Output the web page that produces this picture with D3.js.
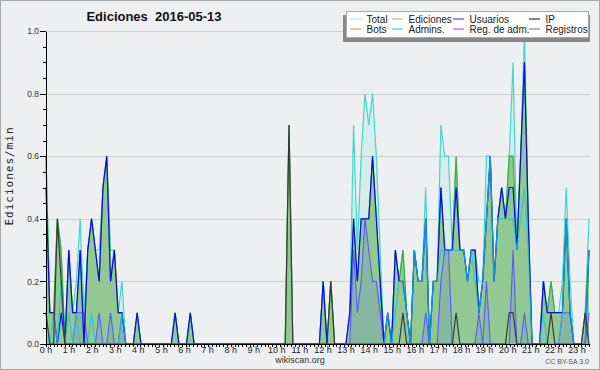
<!DOCTYPE html>
<head>
  <meta charset="utf-8">
  <script src="https://d3js.org/d3.v7.min.js"></script>
  <style>
    body { margin:0; background:#fff; }
    svg { display:block; font-family:"Liberation Sans", Arial, sans-serif; }
    .grid line { stroke:#cdcdcd; stroke-width:1; shape-rendering:crispEdges; }
    .axis path, .axis line { stroke:#000; shape-rendering:crispEdges; }
    .axis text { font-size:8.5px; fill:#333; font-family:"Liberation Sans", Arial, sans-serif; }
    .lg text { font-size:10px; fill:#222; }
  </style>
</head>

<body>
  <script>
  // ---------- data : one point every 10 minutes, edits/min ----------
    var hours = d3.range(0, 24);
    var yMajor = [0, 0.2, 0.4, 0.6, 0.8, 1.0];

    var total = [
      .6,.1,.1,.4,.3,0,.3,.1,.2,.4,.1,.3,
      .4,.3,.3,.5,.6,.3,.3,.1,.2,0,0,0,
      .1,0,0,0,0,0,0,0,0,0,.1,0,
      0,0,.1,0,0,0,0,0,0,0,0,0,
      0,0,0,0,0,0,0,0,0,0,0,0,
      0,0,0,0,.7,0,0,0,0,0,0,0,
      0,.2,0,.2,0,0,0,0,.1,.7,.3,.6,
      .8,.7,.8,.6,.3,0,.1,0,.3,.2,.3,.1,
      0,.3,.2,.2,.5,0,.2,.2,.7,.6,.6,.3,
      .6,.3,.3,.2,.3,.3,.2,.2,.6,.6,.2,.4,
      .5,.4,.6,.9,.3,.6,1.0,.4,0,0,0,.2,
      .1,.2,.1,.1,.2,.5,.2,0,0,0,.1,.4
    ];
    var ediciones = [
      .6,.1,.1,.4,.3,0,.3,.1,.1,.3,0,.3,
      .4,.3,.2,.5,.6,.2,.3,.1,.1,0,0,0,
      .1,0,0,0,0,0,0,0,0,0,.1,0,
      0,0,.1,0,0,0,0,0,0,0,0,0,
      0,0,0,0,0,0,0,0,0,0,0,0,
      0,0,0,0,.7,0,0,0,0,0,0,0,
      0,.2,0,.2,0,0,0,0,.1,.4,.2,.4,
      .4,.4,.6,.4,.2,0,.1,0,.3,.2,.3,.1,
      0,.3,.2,.2,.4,0,.2,.2,.5,.3,.3,.3,
      .6,.3,.3,.2,.3,.3,.1,.2,.4,.6,.2,.4,
      .5,.4,.6,.6,.3,.6,.9,.4,0,0,0,.2,
      .1,.2,.1,.1,.1,.4,.1,0,0,0,.1,.3
    ];
    var usuarios = [
      .5,.1,.1,0,.1,0,.3,.1,.1,.3,0,.3,
      .4,.3,.2,.5,.6,.2,.3,.1,.1,0,0,0,
      .1,0,0,0,0,0,0,0,0,0,.1,0,
      0,0,.1,0,0,0,0,0,0,0,0,0,
      0,0,0,0,0,0,0,0,0,0,0,0,
      0,0,0,0,0,0,0,0,0,0,0,0,
      0,.2,0,0,0,0,0,0,.1,.4,.2,.4,
      .4,.4,.6,.4,.2,0,.1,0,.3,.2,.2,.1,
      0,.3,.2,.2,.4,0,.2,.2,.5,.3,.3,.3,
      .5,.3,.3,.2,.3,.3,.1,.2,.4,.6,.2,.4,
      .5,.4,.5,.5,.3,.6,.9,.4,0,0,0,.2,
      .1,.1,.1,.1,.1,.4,.1,0,0,0,0,.3
    ];
    var ip = [
      .1,0,0,.4,.2,0,0,0,0,0,0,0,
      0,0,0,0,0,0,0,0,0,0,0,0,
      0,0,0,0,0,0,0,0,0,0,0,0,
      0,0,0,0,0,0,0,0,0,0,0,0,
      0,0,0,0,0,0,0,0,0,0,0,0,
      0,0,0,0,.7,0,0,0,0,0,0,0,
      0,0,0,.2,0,0,0,0,0,0,0,0,
      0,0,0,0,0,0,0,0,0,0,.1,0,
      0,0,0,0,0,0,0,0,0,0,0,0,
      .1,0,0,0,0,0,0,0,0,0,0,0,
      0,0,.1,.1,0,0,0,0,0,0,0,0,
      0,.1,0,0,0,0,0,0,0,0,.1,0
    ];
    var admins = [
      .1,0,.1,0,.2,0,.1,0,.1,0,0,0,
      .1,0,0,0,0,0,0,0,.1,0,0,0,
      0,0,0,0,0,0,0,0,0,0,0,0,
      0,0,0,0,0,0,0,0,0,0,0,0,
      0,0,0,0,0,0,0,0,0,0,0,0,
      0,0,0,0,0,0,0,0,0,0,0,0,
      0,0,0,0,0,0,0,0,0,0,0,0,
      0,0,0,0,0,0,.1,0,.1,.2,.2,.1,
      0,.3,.2,.2,.4,0,.2,.2,.3,.3,.3,.3,
      .3,.3,.3,.2,.3,.2,.1,.2,.4,.6,.2,.4,
      .4,.4,.4,.4,.3,.4,.5,.3,0,0,0,.1,
      0,0,0,0,.1,.4,.1,0,0,0,0,.3
    ];
    var registros = [
      0,0,0,0,0,0,0,0,.1,.1,.1,0,
      0,0,.1,0,0,.1,0,0,.1,0,0,0,
      0,0,0,0,0,0,0,0,0,0,0,0,
      0,0,0,0,0,0,0,0,0,0,0,0,
      0,0,0,0,0,0,0,0,0,0,0,0,
      0,0,0,0,0,0,0,0,0,0,0,0,
      0,0,0,0,0,0,0,0,0,.3,.1,.2,
      .4,.3,.2,.2,.1,0,0,0,0,0,0,0,
      0,0,0,0,.1,0,0,0,.2,.3,.3,0,
      0,0,0,0,0,0,.1,0,.2,0,0,0,
      0,0,0,.3,0,0,.1,0,0,0,0,0,
      0,0,0,0,.1,.1,.1,0,0,0,0,.1
    ];

    var legendRows = [
      [["Total", "#a8e8e0"], ["Ediciones", "#88d088"], ["Usuarios", "#4848e0"], ["IP", "#333333"]],
      [["Bots", "#f0a040"], ["Admins.", "#40d0e0"], ["Reg. de adm.", "#d050e0"], ["Registros", "#7878ff"]]
    ];

  // ---------- svg ----------
    var svg = d3.select("body").append("svg")
      .attr("width", 600)
      .attr("height", 370);

    svg.append("rect")
      .attr("x", 0.5).attr("y", 0.5)
      .attr("width", 599).attr("height", 369)
      .attr("fill", "#eeeff1")
      .attr("stroke", "#a8a8a8");

    var x = d3.scaleLinear().domain([0, total.length - 1]).range([46, 589]);
    var xh = d3.scaleLinear().domain([0, 24]).range([46, 589]);
    var xl = d3.scaleLinear().domain([0, 24]).range([46, 600]);
    var y = d3.scaleLinear().domain([0, 1]).range([344, 31]);

  // ---------- grid ----------
    svg.append("g").attr("class", "grid")
      .selectAll("line").data(yMajor.slice(1)).enter().append("line")
      .attr("x1", 46).attr("x2", 590)
      .attr("y1", d => Math.round(y(d)) + 0.5)
      .attr("y2", d => Math.round(y(d)) + 0.5);

  // ---------- series ----------
    function area(vals) {
      return d3.area().x((d, i) => x(i)).y0(y(0)).y1(d => y(d))(vals);
    }
    function line(vals) {
      return d3.line().x((d, i) => x(i)).y(d => y(d))(vals);
    }

    svg.append("path").attr("d", area(total))
      .attr("fill", "rgba(64,224,208,0.13)");
    svg.append("path").attr("d", line(total))
      .attr("fill", "none").attr("stroke", "#40d8cc").attr("stroke-width", 1.2);

    svg.append("path").attr("d", area(ediciones))
      .attr("fill", "#92c992");
    svg.append("path").attr("d", line(ediciones))
      .attr("fill", "none").attr("stroke", "#38b038").attr("stroke-width", 1.2);

    svg.append("path").attr("d", area(registros))
      .attr("fill", "rgba(80,80,255,0.14)");
    svg.append("path").attr("d", line(registros))
      .attr("fill", "none").attr("stroke", "#5a5aff").attr("stroke-width", 1.1);

    svg.append("path").attr("d", line(usuarios))
      .attr("fill", "none").attr("stroke", "#0a0ae8").attr("stroke-width", 1.2);

    svg.append("path").attr("d", line(admins))
      .attr("fill", "none").attr("stroke", "#18c4e0").attr("stroke-width", 1.2)
      .attr("stroke-opacity", 0.75);

    svg.append("path").attr("d", line(ip))
      .attr("fill", "none").attr("stroke", "#383838").attr("stroke-width", 1.2);

  // ---------- axes ----------
    svg.append("g").attr("class", "axis")
      .attr("transform", "translate(46,0)")
      .call(d3.axisLeft(y).tickValues(d3.range(0, 1.001, 0.05)).tickSize(3).tickFormat("").tickSizeOuter(0));
    svg.append("g").attr("class", "axis")
      .attr("transform", "translate(46,0)")
      .call(d3.axisLeft(y).tickValues(yMajor).tickSize(6).tickPadding(1)
        .tickFormat(d3.format(".1f")).tickSizeOuter(0));

    svg.append("g").attr("class", "axis")
      .attr("transform", "translate(0,344)")
      .call(d3.axisBottom(xh).tickValues(d3.range(0, 145).map(d => d / 6)).tickSize(3)
        .tickFormat("").tickSizeOuter(0));

    svg.append("g").selectAll("text").data(hours).enter().append("text")
      .attr("x", d => xl(d))
      .attr("y", 353)
      .attr("text-anchor", "middle")
      .attr("font-size", "9px")
      .attr("fill", "#222")
      .text(d => d + " h");

  // ---------- texts ----------
    svg.append("text")
      .attr("x", 154).attr("y", 21)
      .attr("text-anchor", "middle")
      .attr("font-size", "13px")
      .attr("font-weight", "bold")
      .attr("fill", "#111")
      .style("white-space", "pre")
      .text("Ediciones  2016-05-13");

    svg.append("text")
      .attr("transform", "translate(13,176) rotate(-90)")
      .attr("text-anchor", "middle")
      .attr("font-family", "'DejaVu Sans Mono', monospace")
      .attr("font-size", "11px")
      .attr("letter-spacing", "1px")
      .attr("fill", "#222")
      .text("Ediciones/min");

    svg.append("text")
      .attr("x", 300).attr("y", 363)
      .attr("text-anchor", "middle")
      .attr("font-size", "9px")
      .attr("fill", "#333")
      .text("wikiscan.org");

    svg.append("text")
      .attr("x", 589).attr("y", 364)
      .attr("text-anchor", "end")
      .attr("font-size", "7px")
      .attr("fill", "#555")
      .text("CC BY-SA 3.0");

  // ---------- legend ----------
    var lg = svg.append("g").attr("class", "lg");
    lg.append("rect")
      .attr("x", 343).attr("y", 15).attr("width", 247).attr("height", 27)
      .attr("fill", "#888");
    lg.append("rect")
      .attr("x", 346.5).attr("y", 11.5).attr("width", 242).attr("height", 26)
      .attr("fill", "#fff").attr("stroke", "#aaa");

    var colX = [350, 392, 453, 529];
    legendRows.forEach(function(row, r) {
      row.forEach(function(item, c) {
        var cy = 19 + r * 10;
        lg.append("line")
          .attr("x1", colX[c]).attr("x2", colX[c] + 11)
          .attr("y1", cy).attr("y2", cy)
          .attr("stroke", item[1]).attr("stroke-width", 1.2);
        lg.append("text")
          .attr("x", colX[c] + 16.5).attr("y", cy + 3.5)
          .text(item[0]);
      });
    });
  </script>
</body>
